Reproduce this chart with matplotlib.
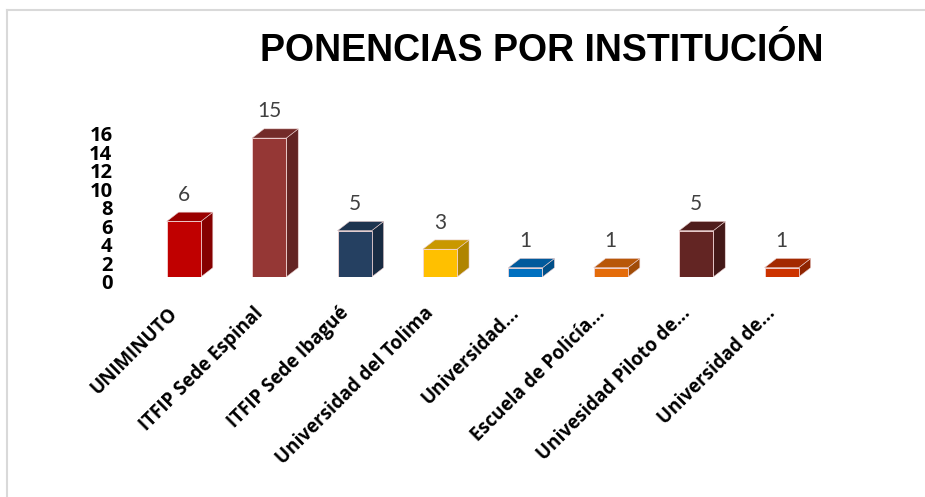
import numpy as np
import matplotlib.pyplot as plt
import matplotlib.transforms as mtransforms
from matplotlib.patches import Polygon
from matplotlib.lines import Line2D

#%% datos

instituciones = ["UNIMINUTO", "ITFIP Sede Espinal", "ITFIP Sede Ibagué",
                 "Universidad del Tolima", "Universidad...", "Escuela de Policía...",
                 "Univesidad Piloto de...", "Universidad de..."]
ponencias = [6, 15, 5, 3, 1, 1, 5, 1]

frente = ["#C00000", "#953735", "#254061", "#FFC000",
          "#0070C0", "#E46C0A", "#632523", "#CC3300"]
lado = ["#850000", "#632423", "#182B42", "#B08500",
        "#004F88", "#A14C07", "#441918", "#8F2400"]
techo = ["#9A0000", "#732B29", "#1D344F", "#C99800",
         "#005A9C", "#B85708", "#4F1D1C", "#A32900"]

#%% figura

fig = plt.figure(figsize=(9.25, 4.97), dpi=100)
ax = fig.add_axes([0.1276, 0.4427, 0.77, 0.326])

x = np.arange(len(ponencias))
w = 0.40      # ancho de la cara frontal
dx = 0.14     # profundidad en x
dy = 1.0      # profundidad en y

ax.bar(x, ponencias, width=w, color=frente, edgecolor="#f2d6d6",
       linewidth=0.6, zorder=3)

for i, v in enumerate(ponencias):
    x0, x1 = x[i] - w / 2, x[i] + w / 2
    side = Polygon([(x1, 0), (x1 + dx, dy), (x1 + dx, v + dy), (x1, v)],
                   closed=True, facecolor=lado[i], edgecolor="#e8cccc",
                   linewidth=0.4, zorder=2)
    top = Polygon([(x0, v), (x0 + dx, v + dy), (x1 + dx, v + dy), (x1, v)],
                  closed=True, facecolor=techo[i], edgecolor="#e8cccc",
                  linewidth=0.4, zorder=2)
    ax.add_patch(side)
    ax.add_patch(top)
    ax.text(x[i], v + dy + 0.8, str(v), ha="center", va="bottom",
            fontsize=15, color="#404040", family="Lato")

ax.set_xlim(-0.77, 7.57)
ax.set_ylim(0, 17.5)
ax.set_yticks(range(0, 17, 2))
ax.set_yticklabels([str(t) for t in range(0, 17, 2)], fontsize=14.5,
                   fontweight="bold", family="Open Sans")
ax.set_xticks(x)
ax.set_xticklabels(instituciones, rotation=45, ha="right", va="center",
                   rotation_mode="anchor", fontsize=13.5, fontweight="bold",
                   family="Open Sans")
ax.tick_params(axis="both", length=0)
ax.tick_params(axis="x", pad=24)
ax.tick_params(axis="y", pad=4)
for s in ax.spines.values():
    s.set_visible(False)

# etiquetas del eje y un poco más abajo (efecto 3D)
bajar = mtransforms.ScaledTranslation(0, -5 / 100, fig.dpi_scale_trans)
for lab in ax.get_yticklabels():
    lab.set_transform(lab.get_transform() + bajar)
izq = mtransforms.ScaledTranslation(-9 / 100, 0, fig.dpi_scale_trans)
for lab in ax.get_xticklabels():
    lab.set_transform(lab.get_transform() + izq)

fig.text(0.586, 0.898, "PONENCIAS POR INSTITUCIÓN", ha="center", va="center",
         fontsize=27, fontweight="bold", family="Liberation Sans")

# borde del área del gráfico
fig.add_artist(Line2D([7 / 925, 1], [1 - 10 / 497, 1 - 10 / 497],
                      color="#d9d9d9", linewidth=1.5, transform=fig.transFigure))
fig.add_artist(Line2D([7 / 925, 7 / 925], [0, 1 - 10 / 497],
                      color="#d9d9d9", linewidth=1.5, transform=fig.transFigure))

fig.savefig("out.png", dpi=100)
